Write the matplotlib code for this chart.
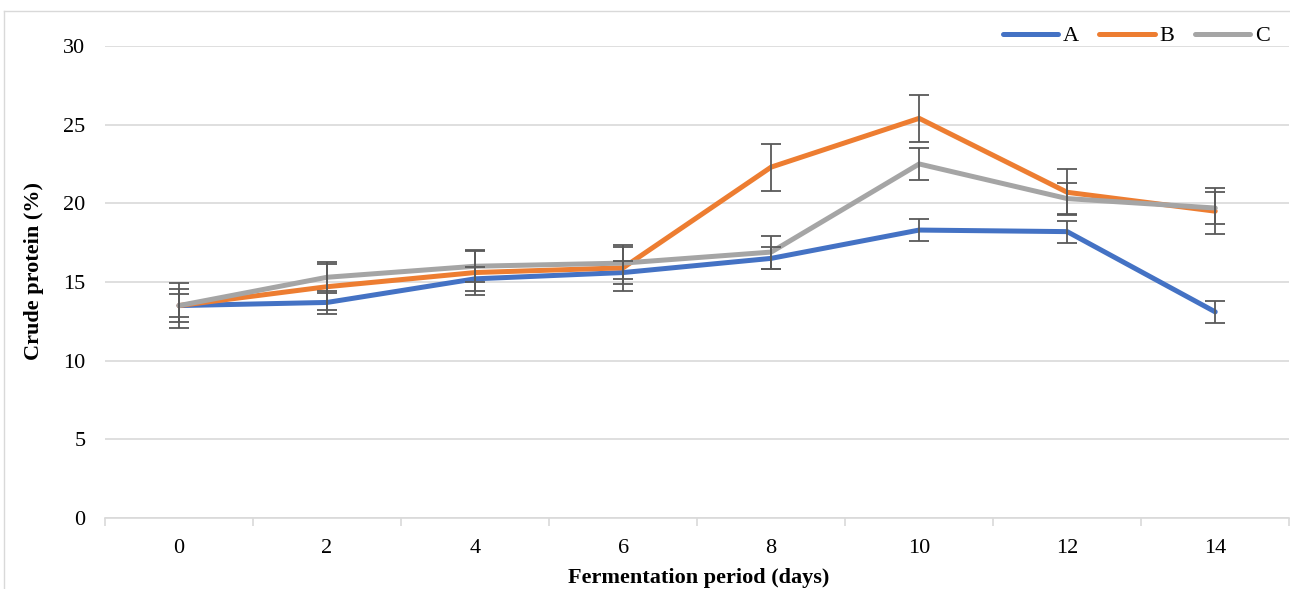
import matplotlib.pyplot as plt
import numpy as np

plt.rcParams['font.family'] = ['Liberation Serif', 'DejaVu Serif']

days = [0, 2, 4, 6, 8, 10, 12, 14]
series_names = ['A', 'B', 'C']
a_vals = [13.5, 13.7, 15.2, 15.6, 16.5, 18.3, 18.2, 13.1]
b_vals = [13.5, 14.7, 15.6, 15.9, 22.3, 25.4, 20.7, 19.5]
c_vals = [13.5, 15.3, 16.0, 16.2, 16.9, 22.5, 20.3, 19.7]
a_err = [0.75, 0.75, 0.75, 0.75, 0.7, 0.7, 0.7, 0.7]
b_err = [1.45, 1.45, 1.45, 1.45, 1.5, 1.5, 1.45, 1.45]
c_err = [1.05, 1.0, 1.0, 1.0, 1.05, 1.0, 1.0, 1.0]
colors = ['#4472C4', '#ED7D31', '#A5A5A5']

fig = plt.figure(figsize=(12.9, 5.89), dpi=100)
ax = fig.add_axes([0.0814, 0.1205, 0.918, 0.8015])

x = np.arange(len(days))
for name, vals, err, col in zip(series_names, [a_vals, b_vals, c_vals],
                                [a_err, b_err, c_err], colors):
    ax.plot(x, vals, color=col, lw=3.6, label=name, zorder=3,
            solid_capstyle='round')
    ax.errorbar(x, vals, yerr=err, fmt='none', ecolor='#595959',
                elinewidth=1.3, capsize=7, capthick=1.3, zorder=4)

ax.set_ylim(0, 30)
ax.set_yticks(range(0, 31, 5))
ax.set_xlim(-0.5, len(days) - 0.5)
ax.set_xticks(x)
ax.set_xticklabels([str(d) for d in days])
ax.set_xticks(np.arange(-0.5, len(days), 1), minor=True)
ax.grid(axis='y', color='#D9D9D9', lw=1.2)
ax.set_axisbelow(True)
for s in ['top', 'right', 'left']:
    ax.spines[s].set_visible(False)
ax.spines['bottom'].set_color('#D9D9D9')
ax.spines['bottom'].set_linewidth(1.2)
ax.tick_params(axis='x', which='major', length=0, pad=15, labelsize=16)
ax.tick_params(axis='x', which='minor', length=6, color='#D9D9D9', width=1.2)
ax.tick_params(axis='y', length=0, pad=14, labelsize=16)

fig.text(0.026, 0.54, 'Crude protein (%)', rotation=90, ha='center',
         va='center', fontsize=16, fontweight='bold')
fig.text(0.542, 0.018, 'Fermentation period (days)', ha='center',
         va='center', fontsize=16, fontweight='bold')

fig.legend(loc='upper right', bbox_to_anchor=(1.0, 0.99), ncol=3,
           frameon=False, fontsize=16, handlelength=2.5, columnspacing=0.9,
           handletextpad=0.22)

fig.add_artist(plt.Line2D([0.003, 0.003], [0, 0.982], color='#D9D9D9',
                          lw=1, transform=fig.transFigure))
fig.add_artist(plt.Line2D([0.003, 1.0], [0.982, 0.982], color='#D9D9D9',
                          lw=1, transform=fig.transFigure))

fig.savefig('out.png', dpi=100)
